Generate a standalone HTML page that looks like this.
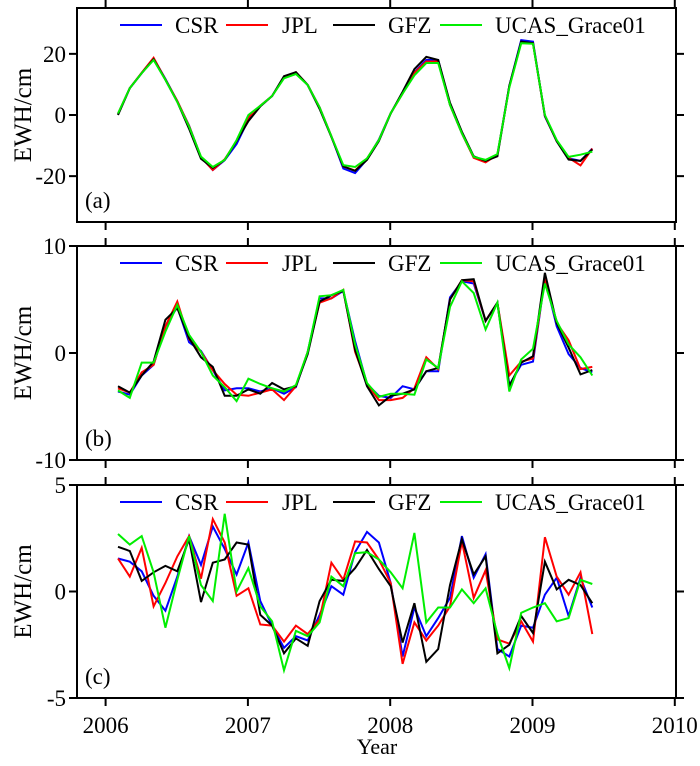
<!DOCTYPE html>
<html><head><meta charset="utf-8"><style>
body{margin:0;background:#fff}
svg text{font-family:"Liberation Serif","DejaVu Serif",serif;fill:#000}
</style></head><body>
<svg id="chart" width="700" height="761" viewBox="0 0 700 761" xmlns="http://www.w3.org/2000/svg"></svg>
<script>
const t0 = 2006.087;
const aCSR  =[0.3,8.8,13.7,18.5,11.8,4.5,-3.5,-13.8,-18,-14.8,-9.5,-1.5,3,6.2,12.3,13.8,9.8,2.5,-7,-17.5,-19,-14.5,-8,0.6,7.2,14,18,18,3.3,-6,-13.9,-15.3,-13,9.5,24.5,24,-0.5,-8.5,-14.2,-15,-11];
const aJPL  =[0.4,8.8,13.8,18.7,11.6,4.6,-3.6,-13.8,-18,-14.5,-8.5,-0.8,3,6.2,12.2,14,9.8,2.5,-7,-16.8,-18.2,-14.3,-8.2,0.6,7,13.8,17.5,17.5,3.3,-6,-14,-15.5,-13,9.3,23.8,23.5,-0.3,-8.5,-14,-16.5,-11];
const aGFZ  =[0,8.8,13.7,18.2,11.5,4.3,-4.5,-14.3,-17.3,-14.7,-8.5,-2,2.8,6.2,12.7,14,9.8,2,-7.2,-16.8,-18.3,-14.7,-8.5,0.5,7.6,15,19,18,4,-5.5,-13.5,-15,-13.5,9.5,24,23.5,-0.2,-8.6,-14.6,-15,-11.3];
const aUCAS =[0.5,8.8,13.7,18,11.5,4.3,-3.8,-13.6,-17,-14.7,-8.2,0,3,6.2,12,13.4,9.8,2.5,-7,-16.4,-17,-14.2,-8.2,0.6,7,13,17,17,3.3,-6,-13.7,-14.7,-12.8,9,23.5,23.3,0,-8.2,-13.7,-13,-12];
const bCSR  =[-3.6,-3.9,-2.1,-1.1,2.5,4.3,1.0,0.2,-1.6,-3.5,-3.3,-3.3,-3.6,-3.3,-3.8,-3.2,0.1,5.1,5.1,5.8,1.1,-2.9,-4.0,-4.2,-3.1,-3.4,-1.7,-1.7,5.2,6.7,6.5,3.0,4.7,-3.0,-1.1,-0.8,7.0,2.5,-0.1,-1.4,-1.8];
const bJPL  =[-3.3,-3.7,-1.8,-1.1,2.5,4.8,1.3,0.1,-1.6,-2.9,-3.9,-4.0,-3.7,-3.4,-4.4,-3.1,0.1,4.7,5.1,5.9,0.1,-2.9,-4.4,-4.4,-4.2,-3.3,-0.4,-1.5,5.0,6.8,6.7,3.0,4.7,-2.1,-0.8,-0.5,7.0,2.8,1.2,-1.5,-1.3];
const bGFZ  =[-3.1,-3.7,-2.1,-0.8,3.1,4.2,1.4,-0.4,-1.3,-4.0,-4.0,-3.4,-3.8,-2.8,-3.4,-3.1,-0.1,4.8,5.4,5.8,0.3,-3.1,-4.9,-4.0,-3.8,-3.4,-1.7,-1.4,5.0,6.8,6.9,3.0,4.7,-3.1,-0.9,-0.3,7.5,2.8,0.5,-2.0,-1.6];
const bUCAS =[-3.5,-4.2,-0.9,-0.9,2.0,4.5,1.7,0.1,-2.1,-3.2,-4.5,-2.4,-2.9,-3.3,-3.6,-3.0,0.1,5.3,5.4,5.9,0.8,-2.8,-4.1,-3.8,-3.8,-3.9,-0.6,-1.4,4.3,6.7,5.6,2.2,4.7,-3.6,-0.6,0.4,6.5,3.0,0.8,-0.4,-2.1];
const cCSR  =[1.55,1.4,0.95,-0.2,-0.9,0.7,2.6,1.25,3.05,2.0,0.8,2.3,-0.45,-1.6,-2.65,-2.1,-2.3,-1.1,0.25,-0.15,1.85,2.8,2.3,0.4,-3.05,-0.75,-2.1,-1.25,-0.3,2.6,0.65,1.75,-2.7,-3.05,-1.6,-1.7,-0.15,0.65,-1.15,0.65,-0.75];
const cJPL  =[1.55,0.7,2.05,-0.7,0.4,1.65,2.6,0.6,3.4,2.3,-0.2,0.15,-1.55,-1.6,-2.35,-1.6,-2.0,-1.3,1.35,0.55,2.35,2.3,1.5,0.4,-3.4,-1.45,-2.3,-1.6,-0.7,2.35,-0.3,1.0,-2.25,-2.45,-1.4,-2.35,2.55,0.7,-0.15,0.9,-2.0];
const cGFZ  =[2.1,1.9,0.5,0.9,1.2,0.95,2.45,-0.5,1.35,1.5,2.3,2.2,-1.1,-1.6,-2.9,-2.2,-2.55,-0.45,0.55,0.5,1.1,1.95,1.05,0.25,-2.4,-0.55,-3.3,-2.7,0.3,2.45,0.8,1.65,-2.9,-2.5,-1.15,-1.95,1.4,0.1,0.55,0.3,-0.55];
const cUCAS =[2.7,2.2,2.6,0.9,-1.7,0.55,2.6,0.3,-0.45,3.65,0,1.1,-0.7,-1.4,-3.7,-1.85,-2.1,-1.45,0.7,0.25,1.8,1.85,1.5,0.9,0.15,2.75,-1.45,-0.75,-0.75,0.1,-0.55,0.15,-2.0,-3.6,-1.0,-0.75,-0.55,-1.4,-1.25,0.55,0.35];
const xTicks = [2006,2007,2008,2009,2010];
const aTicks = [20,0,-20], bTicks=[10,0,-10], cTicks=[5,0,-5];
const seriesNames = ['CSR','JPL','GFZ','UCAS_Grace01'];
const colors = ['#0000ff','#ff0000','#000000','#00ee00'];

const NS='http://www.w3.org/2000/svg';
const FF='"Liberation Serif", "DejaVu Serif", serif';
const svg=document.getElementById('chart');
function mk(tag,attrs,parent){const e=document.createElementNS(NS,tag);for(const k in attrs)e.setAttribute(k,attrs[k]);if(tag==='text')e.setAttribute('font-family',FF);(parent||svg).appendChild(e);return e;}
const L=77,R=676;
function xs(t){return 105.6+(t-2006)*142.3;}
const panels=[
 {id:'a',top:8,bot:222,min:-35,max:35,ticks:aTicks,data:[aCSR,aJPL,aGFZ,aUCAS],lab:'(a)'},
 {id:'b',top:246,bot:460,min:-10,max:10,ticks:bTicks,data:[bCSR,bJPL,bGFZ,bUCAS],lab:'(b)'},
 {id:'c',top:485,bot:698,min:-5,max:5,ticks:cTicks,data:[cCSR,cJPL,cGFZ,cUCAS],lab:'(c)'}
];
panels.forEach(p=>{
  const g=mk('g',{});
  
  
  const ys=v=>p.bot-(v-p.min)/(p.max-p.min)*(p.bot-p.top);
  p.data.forEach((arr,si)=>{
    const pts=arr.map((v,i)=>xs(t0+i/12).toFixed(1)+','+ys(v).toFixed(1)).join(' ');
    const pl=mk('polyline',{points:pts,fill:'none',stroke:colors[si],'stroke-width':2,'stroke-linejoin':'miter'},g);
    
    
  });
  const box=mk('rect',{x:L,y:p.top,width:R-L,height:p.bot-p.top,fill:'none',stroke:'#000','stroke-width':2},g);
  
  
  p.ticks.forEach(v=>{
    const y=ys(v);
    mk('line',{x1:69,x2:L,y1:y,y2:y,stroke:'#000','stroke-width':2},g);
    mk('line',{x1:R,x2:R+8,y1:y,y2:y,stroke:'#000','stroke-width':2},g);
    const tx=mk('text',{x:66,y:y+8,'text-anchor':'end','font-size':23},g);
    tx.textContent=v;
    
    
  });
  xTicks.forEach(t=>{
    const x=xs(t);
    mk('line',{x1:x,x2:x,y1:p.top-8,y2:p.top,stroke:'#000','stroke-width':2},g);
    mk('line',{x1:x,x2:x,y1:p.bot,y2:p.bot+8,stroke:'#000','stroke-width':2},g);
  });
  const lab=mk('text',{x:85,y:p.bot-14,'font-size':23},g);
  lab.textContent=p.lab;
  
  
  const yt=mk('text',{x:0,y:0,'font-size':25,'text-anchor':'middle',transform:'translate(31,'+((p.top+p.bot)/2)+') rotate(-90)'},g);
  yt.textContent='EWH/cm';
  
  
  const ly=p.top+17;
  const legX=[[120,175],[226,282],[333,388],[440,495]];
  seriesNames.forEach((n,si)=>{
    const lg=mk('g',{},g);
    
    
    mk('line',{x1:legX[si][0],x2:legX[si][0]+42,y1:ly,y2:ly,stroke:colors[si],'stroke-width':2},lg);
    const tt=mk('text',{x:legX[si][1],y:ly+8,'font-size':23},lg);
    tt.textContent=n;
  });
});
xTicks.forEach(t=>{
  const tx=mk('text',{x:xs(t),y:733,'text-anchor':'middle','font-size':23});
  tx.textContent=t;
  
  
});
const xt=mk('text',{x:377,y:754,'text-anchor':'middle','font-size':22});
xt.textContent='Year';


</script>
</body></html>
